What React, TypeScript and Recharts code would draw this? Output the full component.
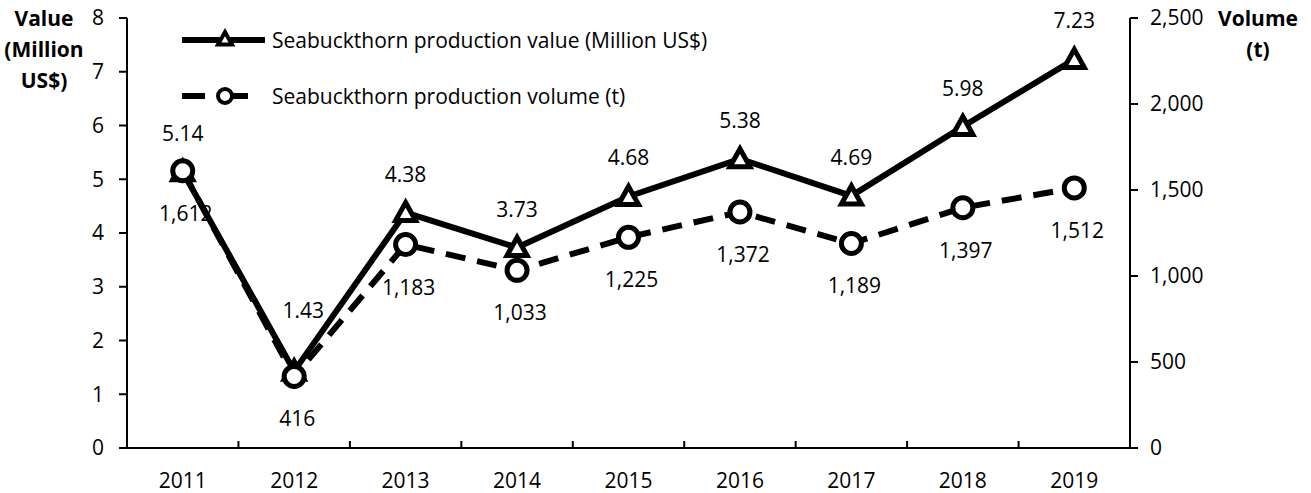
import { LineChart, Line, XAxis, YAxis, LabelList } from 'recharts';

const years = [2011, 2012, 2013, 2014, 2015, 2016, 2017, 2018, 2019];
const productionValue = [5.14, 1.43, 4.38, 3.73, 4.68, 5.38, 4.69, 5.98, 7.23];
const productionVolume = [1612, 416, 1183, 1033, 1225, 1372, 1189, 1397, 1512];
const valueTicks = [0, 1, 2, 3, 4, 5, 6, 7, 8];
const volumeTicks = [0, 500, 1000, 1500, 2000, 2500];
const seriesNames = ['Seabuckthorn production value (Million US$)', 'Seabuckthorn production volume (t)'];

const data = years.map((year, i) => ({ year, value: productionValue[i], volume: productionVolume[i] }));
// year labels on the integers, small tick marks between categories
const yearTicks = years.flatMap((y, i) => (i < years.length - 1 ? [y, y + 0.5] : [y]));

const FONT = '"Open Sans", sans-serif';
const INK = '#000';
const FS = 21;

const fmt = (v: number) => v.toLocaleString('en-US');

// "mk" = marker half-size; recharts passes its own r/size props to dots, so use a separate name
const Triangle = ({ cx, cy, mk = 10 }: any) => {
  if (cx == null || cy == null) return null;
  return (
    <path
      d={`M${cx},${cy - mk} L${cx + mk},${cy + mk * 0.8} L${cx - mk},${cy + mk * 0.8} Z`}
      fill="#fff"
      stroke={INK}
      strokeWidth={mk > 8 ? 5 : 4}
      strokeLinejoin="miter"
    />
  );
};

const Circle = ({ cx, cy, mk = 10 }: any) => {
  if (cx == null || cy == null) return null;
  return <circle cx={cx} cy={cy} r={mk} fill="#fff" stroke={INK} strokeWidth={mk > 8 ? 5 : 4} />;
};

const YearTick = ({ x, y, payload }: any) => {
  if (Number.isInteger(payload.value)) {
    return (
      <text x={x} y={y + 32} textAnchor="middle" dominantBaseline="central" fontSize={FS} fontFamily={FONT} fill={INK}>
        {payload.value}
      </text>
    );
  }
  return <line x1={x} x2={x} y1={y - 7} y2={y} stroke={INK} strokeWidth={2} />;
};

const ValueLabel = ({ x, y, value, index }: any) => {
  const lift = index === 1 ? 61 : 39;
  const shift = index === 1 ? 9 : 0;
  return (
    <text x={x + shift} y={y - lift} textAnchor="middle" dominantBaseline="central" fontSize={FS} fontFamily={FONT} fill={INK}>
      {Number(value).toFixed(2)}
    </text>
  );
};

const VolumeLabel = ({ x, y, value }: any) => (
  <text x={x + 3} y={y + 42} textAnchor="middle" dominantBaseline="central" fontSize={FS} fontFamily={FONT} fill={INK}>
    {fmt(Number(value))}
  </text>
);

const LegendBox = () => (
  <svg width={620} height={90} style={{ position: 'absolute', left: 172, top: 22 }}>
    <line x1={10} x2={93} y1={18} y2={18} stroke={INK} strokeWidth={6} />
    <Triangle cx={53} cy={17} mk={7} />
    <text x={100} y={18} dominantBaseline="central" fontSize={FS} fontFamily={FONT} fill={INK}>
      {seriesNames[0]}
    </text>
    <line x1={10} x2={93} y1={74} y2={74} stroke={INK} strokeWidth={6} strokeDasharray="23 20" />
    <Circle cx={53} cy={74} mk={7} />
    <text x={100} y={74} dominantBaseline="central" fontSize={FS} fontFamily={FONT} fill={INK}>
      {seriesNames[1]}
    </text>
  </svg>
);

const titleStyle: React.CSSProperties = {
  position: 'absolute',
  fontFamily: FONT,
  fontWeight: 700,
  fontSize: 21,
  lineHeight: '31px',
  textAlign: 'center',
  color: INK,
};

export default function App() {
  return (
    <div style={{ position: 'absolute', left: 0, top: 0, width: 1311, height: 493, background: '#fff' }}>
      <LineChart width={1311} height={493} data={data} margin={{ top: 18, right: 0, bottom: 0, left: 0 }}>
        <XAxis
          dataKey="year"
          type="number"
          domain={[2010.5, 2019.5]}
          ticks={yearTicks}
          interval={0}
          height={45}
          tickLine={false}
          tickSize={0}
          tickMargin={0}
          tick={<YearTick />}
          axisLine={{ stroke: INK, strokeWidth: 2 }}
        />
        <YAxis
          yAxisId="value"
          domain={[0, 8]}
          ticks={valueTicks}
          interval={0}
          width={127}
          tickSize={8}
          tickMargin={15}
          axisLine={{ stroke: INK, strokeWidth: 2 }}
          tickLine={{ stroke: INK, strokeWidth: 2 }}
          tick={{ fill: INK, fontSize: FS, fontFamily: FONT }}
        />
        <YAxis
          yAxisId="volume"
          orientation="right"
          domain={[0, 2500]}
          ticks={volumeTicks}
          interval={0}
          width={181}
          tickSize={8}
          tickMargin={12}
          tickFormatter={fmt}
          axisLine={{ stroke: INK, strokeWidth: 2 }}
          tickLine={{ stroke: INK, strokeWidth: 2 }}
          tick={{ fill: INK, fontSize: FS, fontFamily: FONT }}
        />
        <Line
          yAxisId="value"
          dataKey="value"
          name={seriesNames[0]}
          stroke={INK}
          strokeWidth={6}
          dot={<Triangle />}
          activeDot={false}
          isAnimationActive={false}
        >
          <LabelList dataKey="value" content={<ValueLabel />} />
        </Line>
        <Line
          yAxisId="volume"
          dataKey="volume"
          name={seriesNames[1]}
          stroke={INK}
          strokeWidth={6}
          strokeDasharray="20 12"
          dot={<Circle />}
          activeDot={false}
          isAnimationActive={false}
        >
          <LabelList dataKey="volume" content={<VolumeLabel />} />
        </Line>
      </LineChart>
      <LegendBox />
      <div style={{ ...titleStyle, left: 0, top: 3, width: 88 }}>
        Value
        <br />
        (Million
        <br />
        US$)
      </div>
      <div style={{ ...titleStyle, left: 1212, top: 3, width: 92 }}>
        Volume
        <br />
        (t)
      </div>
    </div>
  );
}
